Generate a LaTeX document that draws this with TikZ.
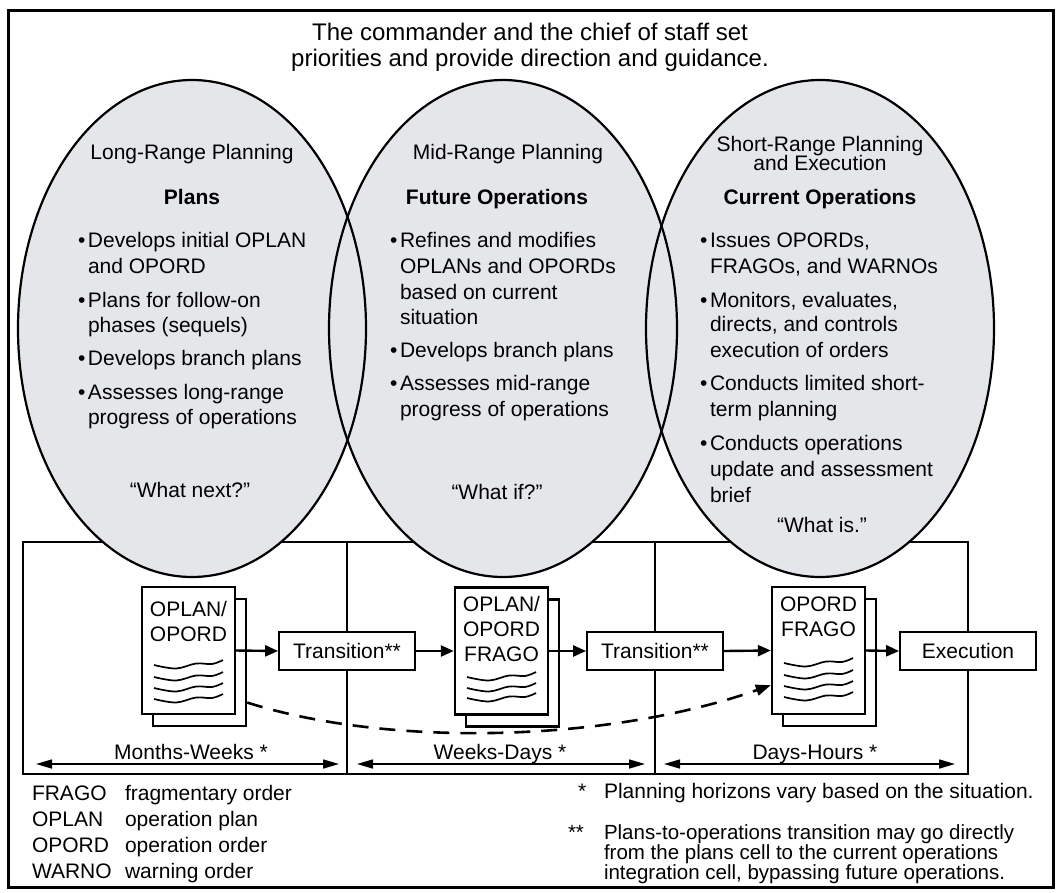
\documentclass[tikz,border=0pt]{standalone}
\usepackage{fontspec}
\setmainfont{Liberation Sans}
\usetikzlibrary{shapes.geometric,arrows.meta}
\definecolor{ellfill}{RGB}{228,230,233}
\newcommand{\bl}[4]{\node[txt,anchor=base west] (#1) at (#2,#3) {\makebox[10pt][l]{•}#4};}
\newcommand{\cl}[4]{\node[txt,anchor=base west] (#1) at (#2,#3) {#4};}
\tikzset{
  txt/.style={inner sep=0pt, outer sep=0pt},
  notetxt/.style={inner sep=0pt, outer sep=0pt, anchor=base west, font=\fontsize{20.5}{24}\selectfont},
  ellf/.style={ellipse, minimum width=348pt, minimum height=497pt, inner sep=0pt, fill=ellfill, draw=none},
  ello/.style={ellipse, minimum width=348pt, minimum height=497pt, inner sep=0pt, draw=black, line width=2.2pt},
  docf/.style={rectangle, minimum width=93pt, minimum height=127pt, inner sep=0pt, fill=white, draw=black, line width=2.4pt},
  trbox/.style={rectangle, minimum width=136pt, minimum height=38pt, inner sep=0pt, fill=white, draw=black, line width=1.8pt},
  flowarrow/.style={line width=2.4pt, -{Triangle[length=13pt,width=11pt]}},
  rangearrow/.style={line width=1.6pt, {Triangle[length=16pt,width=9pt]}-{Triangle[length=16pt,width=9pt]}},
  waveline/.style={line width=1.7pt},
  wavepic/.pic={\draw[waveline] plot[smooth, tension=0.6] coordinates {(0,0) (22,3.5) (42,-1.5) (58,-1) (69,-5)};},
  bypassarrow/.style={line width=2.6pt, dash pattern=on 16pt off 11pt, -{Triangle[length=15pt,width=11pt]}}
}
\begin{document}
\begin{tikzpicture}[x=1pt, y=-1pt, font=\fontsize{21}{25}\selectfont]
\useasboundingbox (0,0) rectangle (1059,892);
\fill[white] (0,0) rectangle (1059,892);
% outer frame
\draw[line width=3pt] (8,10) rectangle (1053,887);
% title
\node[txt, anchor=base, font=\fontsize{24}{26}\selectfont] (title1) at (530,40) {The commander and the chief of staff set};
\node[txt, anchor=base, font=\fontsize{24}{26}\selectfont] (title2) at (530,66) {priorities and provide direction and guidance.};
% panel
\draw[line width=2.4pt] (23,542) rectangle (968,774);
\coordinate (dv1t) at (347,542); \coordinate (dv1b) at (347,774);
\coordinate (dv2t) at (655,542); \coordinate (dv2b) at (655,774);
\draw[line width=2.4pt] (dv1t) -- (dv1b);
\draw[line width=2.4pt] (dv2t) -- (dv2b);
% ellipses
\node[ellf] (e1f) at (192,328.5) {};
\node[ellf] (e2f) at (503,328.5) {};
\node[ellf] (e3f) at (820,328.5) {};
\node[ello] (e1) at (192,328.5) {};
\node[ello] (e2) at (503,328.5) {};
\node[ello] (e3) at (820,328.5) {};
% left ellipse text
\node[txt, anchor=base] (h1) at (192,159) {Long-Range Planning};
\node[txt, anchor=base, font=\fontsize{21}{25}\selectfont\bfseries] (b1) at (192,204) {Plans};
\bl{l1a}{78}{247}{Develops initial OPLAN}
\cl{l1b}{88}{273}{and OPORD}
\bl{l2a}{78}{307}{Plans for follow-on}
\cl{l2b}{88}{332}{phases (sequels)}
\bl{l3a}{78}{365}{Develops branch plans}
\bl{l4a}{78}{399}{Assesses long-range}
\cl{l4b}{88}{424}{progress of operations}
\node[txt, anchor=base] (q1) at (190,497) {“What next?”};
% middle ellipse text
\node[txt, anchor=base] (h2) at (508,159) {Mid-Range Planning};
\node[txt, anchor=base, font=\fontsize{21}{25}\selectfont\bfseries] (b2) at (497,204) {Future Operations};
\bl{m1a}{390}{247}{Refines and modifies}
\cl{m1b}{400}{273}{OPLANs and OPORDs}
\cl{m1c}{400}{299}{based on current}
\cl{m1d}{400}{324}{situation}
\bl{m2a}{390}{357}{Develops branch plans}
\bl{m3a}{390}{390}{Assesses mid-range}
\cl{m3b}{400}{416}{progress of operations}
\node[txt, anchor=base] (q2) at (497,499) {“What if?”};
% right ellipse text
\node[txt, anchor=base] (h3a) at (820,151) {Short-Range Planning};
\node[txt, anchor=base] (h3b) at (820,170) {and Execution};
\node[txt, anchor=base, font=\fontsize{21}{25}\selectfont\bfseries] (b3) at (820,204) {Current Operations};
\bl{r1a}{700}{247}{Issues OPORDs,}
\cl{r1b}{710}{273}{FRAGOs, and WARNOs}
\bl{r2a}{700}{307}{Monitors, evaluates,}
\cl{r2b}{710}{331}{directs, and controls}
\cl{r2c}{710}{357}{execution of orders}
\bl{r3a}{700}{390}{Conducts limited short-}
\cl{r3b}{710}{416}{term planning}
\bl{r4a}{700}{450}{Conducts operations}
\cl{r4b}{710}{476}{update and assessment}
\cl{r4c}{710}{502}{brief}
\node[txt, anchor=base] (q3) at (822,532) {“What is.”};
% documents
\node[docf] (d1b) at (199.5,662.5) {};
\node[docf] (d1) at (188.5,650.5) {};
\node[txt, anchor=base] (d1t1) at (188.5,616) {OPLAN/};
\node[txt, anchor=base] (d1t2) at (188.5,641) {OPORD};
\foreach \yy in {665,677,688,699} \pic at (154,\yy) {wavepic};
\node[docf] (d2b) at (512.5,663) {};
\node[docf] (d2) at (501.5,651) {};
\node[txt, anchor=base] (d2t1) at (501.5,611) {OPLAN/};
\node[txt, anchor=base] (d2t2) at (501.5,636) {OPORD};
\node[txt, anchor=base] (d2t3) at (501.5,661) {FRAGO};
\foreach \yy in {677,688,698} \pic at (467,\yy) {wavepic};
\node[docf] (d3b) at (829.5,662.5) {};
\node[docf] (d3) at (818.5,650.5) {};
\node[txt, anchor=base] (d3t1) at (818.5,611) {OPORD};
\node[txt, anchor=base] (d3t2) at (818.5,636) {FRAGO};
\foreach \yy in {663,675,686,697} \pic at (784,\yy) {wavepic};
% boxes
\node[trbox] (t1) at (347,651) {Transition**};
\node[trbox] (t2) at (655,651) {Transition**};
\node[trbox] (ex) at (968,651) {Execution};
% flow arrows
\draw[flowarrow] (d1.east) -- (t1.west);
\draw[flowarrow] (t1.east) -- (d2.west);
\draw[flowarrow] (d2.east) -- (t2.west);
\draw[flowarrow] (t2.east) -- (d3.west);
\draw[flowarrow] (d3.east) -- (ex.west);
% bypass dashed
\draw[bypassarrow] (d1b.-40) .. controls (390,748) and (610,742) .. (d3.216);
% range arrows
\coordinate (ra1) at (36,764); \coordinate (rb1) at (339,764);
\coordinate (ra2) at (357,764); \coordinate (rb2) at (645,764);
\coordinate (ra3) at (664,764); \coordinate (rb3) at (955,764);
\draw[rangearrow] (ra1) -- (rb1);
\draw[rangearrow] (ra2) -- (rb2);
\draw[rangearrow] (ra3) -- (rb3);
\node[txt, anchor=base] (rl1) at (191,759) {Months-Weeks *};
\node[txt, anchor=base] (rl2) at (500,759) {Weeks-Days *};
\node[txt, anchor=base] (rl3) at (815,759) {Days-Hours *};
% legend left
\cl{g1a}{32}{800}{FRAGO}\cl{g1b}{125}{800}{fragmentary order}
\cl{g2a}{32}{826}{OPLAN}\cl{g2b}{125}{826}{operation plan}
\cl{g3a}{32}{852}{OPORD}\cl{g3b}{125}{852}{operation order}
\cl{g4a}{32}{878}{WARNO}\cl{g4b}{125}{878}{warning order}
% legend right
\cl{n1a}{578}{798}{*}\cl{n1b}{604}{798}{Planning horizons vary based on the situation.}
\node[notetxt] (n2a) at (568,839) {**};
\node[notetxt] (n2b) at (604,839) {Plans-to-operations transition may go directly};
\node[notetxt] (n2c) at (604,859) {from the plans cell to the current operations};
\node[notetxt] (n2d) at (604,879) {integration cell, bypassing future operations.};
\end{tikzpicture}
\end{document}
